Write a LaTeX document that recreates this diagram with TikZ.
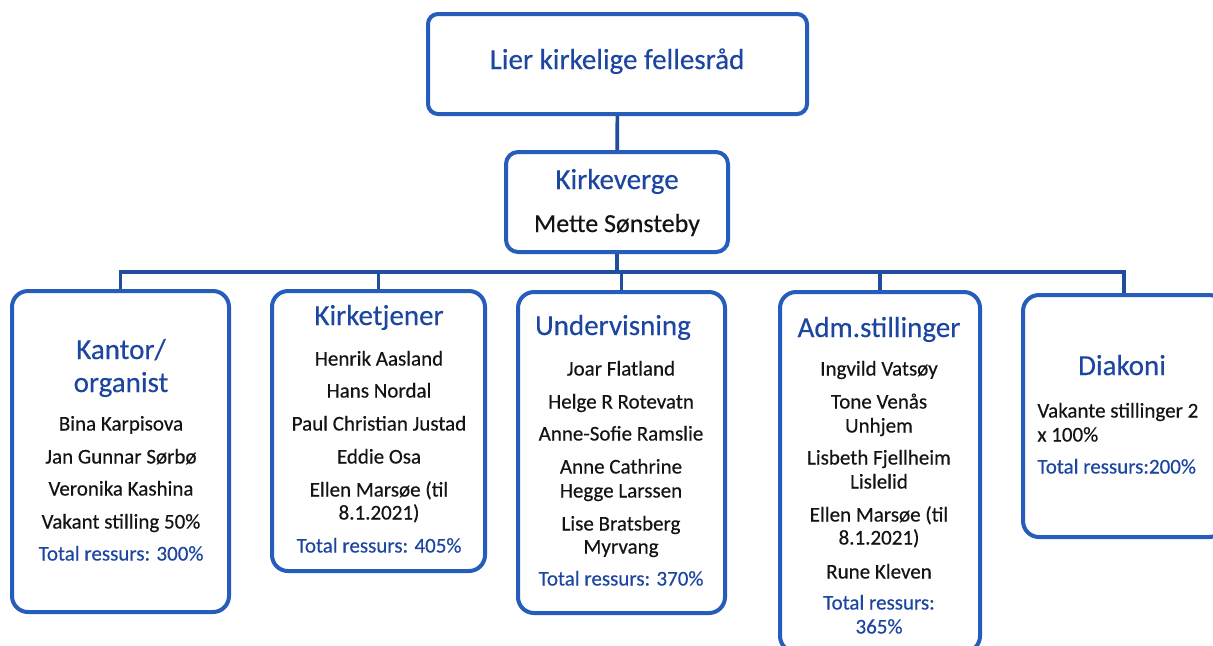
\documentclass[tikz,border=0pt]{standalone}
\usepackage{fontspec}
\setmainfont{Carlito}[FakeBold=0.35]
\definecolor{boxblue}{RGB}{38,92,186}
\definecolor{headblue}{RGB}{28,70,160}
\definecolor{inkgray}{RGB}{20,20,20}
\tikzset{
  unit/.style={draw=boxblue, line width=2pt, rounded corners=8pt, fill=white},
  link/.style={draw=boxblue!85!black, line width=1.8pt},
  headtxt/.style={text=headblue, font=\fontsize{14.5}{17}\selectfont, inner sep=0pt, text height=10pt, text depth=3pt},
  persontxt/.style={text=inkgray, font=\fontsize{10.5}{12}\selectfont, inner sep=0pt, text height=7.5pt, text depth=2pt},
  totaltxt/.style={persontxt, text=headblue}
}
\begin{document}
\begin{tikzpicture}[x=0.5pt,y=-0.5pt]
	\useasboundingbox (0,0) rectangle (1213,645);
	\fill[white] (0,0) rectangle (1213,645);
	% boxes
	\node[unit, minimum width=189.5pt, minimum height=50pt, rounded corners=5pt] (raad) at (617.5,64) {};
	\node[unit, minimum width=111pt, minimum height=50pt, rounded corners=6pt] (verge) at (617,202) {};
	\node[unit, minimum width=108.5pt, minimum height=160.5pt] (kantor) at (120.5,451.5) {};
	\node[unit, minimum width=106.5pt, minimum height=140pt] (tjener) at (378.5,431) {};
	\node[unit, minimum width=103.5pt, minimum height=160.5pt] (underv) at (621.5,452.5) {};
	\node[unit, minimum width=100pt, minimum height=180pt] (adm) at (880,472) {};
	\node[unit, minimum width=101pt, minimum height=121pt] (diakoni) at (1124,416) {};
	% lines
	\coordinate (bus) at (617,272);
	\draw[link] (raad) -- (verge);
	\draw[link] (verge) -- (bus);
	\foreach \d in {kantor,tjener,underv,adm,diakoni}
		\draw[link] (\d.north) |- (bus);
	% top
	\node[headtxt] (raad-txt) at (617,62) {Lier kirkelige fellesråd};
	\node[headtxt] (verge-txt) at (617,182) {Kirkeverge};
	\node[persontxt, font=\fontsize{13}{15}\selectfont, text height=9pt] (verge-navn) at (617,225) {Mette Sønsteby};
	% Kantor/organist
	\node[headtxt] (kantor-h1) at (121,352) {Kantor/};
	\node[headtxt] (kantor-h2) at (121,385) {organist};
	\foreach \y/\t [count=\i] in {425/Bina Karpisova,458/Jan Gunnar Sørbø,490/Veronika Kashina,523/Vakant stilling 50\%}
		\node[persontxt] (kantor-\i) at (121,\y) {\t};
	\node[totaltxt] (kantor-sum) at (121,555) {Total ressurs: 300\%};
	% Kirketjener
	\node[headtxt] (tjener-h) at (379,318) {Kirketjener};
	\foreach \y/\t [count=\i] in {360/Henrik Aasland,392/Hans Nordal,425/Paul Christian Justad,458/Eddie Osa,491/Ellen Marsøe (til,514/8.1.2021)}
		\node[persontxt] (tjener-\i) at (379,\y) {\t};
	\node[totaltxt] (tjener-sum) at (379,547) {Total ressurs: 405\%};
	% Undervisning
	\node[headtxt] (underv-h) at (613,328) {Undervisning};
	\foreach \y/\t [count=\i] in {370/Joar Flatland,403/Helge R Rotevatn,435/Anne-Sofie Ramslie,468/Anne Cathrine,492/Hegge Larssen,525/Lise Bratsberg,548/Myrvang}
		\node[persontxt] (underv-\i) at (621,\y) {\t};
	\node[totaltxt] (underv-sum) at (621,580) {Total ressurs: 370\%};
	% Adm.stillinger
	\node[headtxt] (adm-h) at (879,330) {Adm.stillinger};
	\foreach \y/\t [count=\i] in {370/Ingvild Vatsøy,403/Tone Venås,427/Unhjem,459/Lisbeth Fjellheim,483/Lislelid,516/Ellen Marsøe (til,539/8.1.2021),573/Rune Kleven}
		\node[persontxt] (adm-\i) at (879,\y) {\t};
	\node[totaltxt] (adm-sum1) at (879,604) {Total ressurs:};
	\node[totaltxt] (adm-sum2) at (879,628) {365\%};
	% Diakoni
	\node[headtxt] (diakoni-h) at (1122,368) {Diakoni};
	\node[persontxt, anchor=west] (diakoni-1) at (1037,412) {Vakante stillinger 2};
	\node[persontxt, anchor=west] (diakoni-2) at (1037,436) {x 100\%};
	\node[totaltxt, anchor=west] (diakoni-sum) at (1037,468) {Total ressurs:200\%};
\end{tikzpicture}
\end{document}
